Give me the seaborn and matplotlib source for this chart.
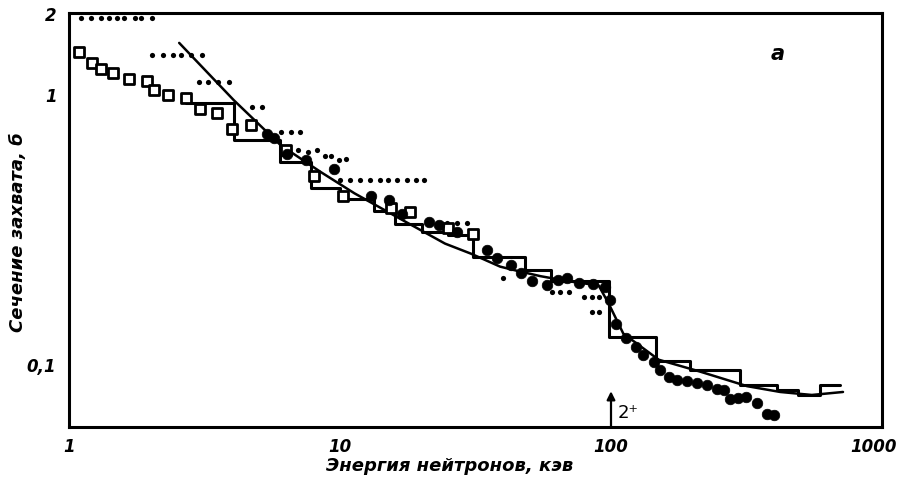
import numpy as np
import pandas as pd
import matplotlib
matplotlib.use("Agg")
import matplotlib.pyplot as plt
import seaborn as sns
from matplotlib.ticker import FixedLocator, FixedFormatter, NullFormatter
from matplotlib.transforms import ScaledTranslation

# ---------------- data ----------------
# open squares
sq_x = [1.09, 1.215, 1.315, 1.45, 1.66, 1.94, 2.06, 2.31, 2.71, 3.04, 3.53, 3.98, 4.69,
        6.3, 8.0, 10.3, 15.4, 18.2, 25.0, 31.0]
sq_y = [1.43, 1.31, 1.245, 1.20, 1.14, 1.12, 1.04, 0.99, 0.97, 0.885, 0.85, 0.746, 0.77,
        0.62, 0.50, 0.42, 0.378, 0.367, 0.32, 0.305]

# filled circles
circ_x = [5.4, 5.7, 6.4, 7.5, 9.5, 12.96, 15.2, 16.9, 21.3, 23.1, 27.0, 34.9, 38.0, 42.6,
          46.4, 51.3, 58.0, 64.0, 68.7, 76.0, 86.0, 95.0, 99.5, 104.0, 114.0, 124.0, 131.0,
          144.0, 151.0, 163.0, 175.0, 190.0, 207.0, 226.0, 246.0, 262.0, 276.0, 295.0,
          316.0, 345.0, 375.0, 400.0]
circ_y = [0.71, 0.69, 0.60, 0.57, 0.53, 0.42, 0.405, 0.36, 0.337, 0.327, 0.309, 0.264, 0.247,
          0.233, 0.217, 0.204, 0.196, 0.206, 0.208, 0.200, 0.199, 0.194, 0.173, 0.141, 0.125,
          0.116, 0.108, 0.102, 0.095, 0.090, 0.0875, 0.0865, 0.085, 0.084, 0.081, 0.080,
          0.0745, 0.075, 0.076, 0.072, 0.0657, 0.065]

# small dots (dotted data rows)
dot_x = [1.11, 1.21, 1.31, 1.4, 1.5, 1.6, 1.75, 1.85, 2.03,
         2.03, 2.23, 2.42, 2.6, 2.83, 3.1,
         3.02, 3.27, 3.56, 3.9,
         4.75, 5.17,
         6.05, 6.6, 7.1,
         7.0, 7.6, 8.2, 8.8, 9.3, 9.9, 10.5,
         10.0, 10.9, 11.9, 12.9, 14.0, 15.0, 16.2, 17.7, 19.0, 20.4,
         22.9, 24.9, 27.1, 29.5,
         40.0,
         60.5, 65.0, 70.0,
         79.5, 85.0, 90.0,
         85.0, 90.0]
dot_y = [1.91] * 9 + [1.395] * 6 + [1.11] * 4 + [0.897] * 2 + [0.728] * 3 + \
        [0.62, 0.61, 0.62, 0.59, 0.59, 0.57, 0.575] + [0.483] * 10 + [0.333] * 4 + \
        [0.208] + [0.185] * 3 + [0.178] * 3 + [0.156] * 2

# smooth calculated curve
curve_x = [2.55, 4.06, 6.05, 8.5, 11.3, 17.2, 24.4, 30.4, 39.0, 45.0, 55.0, 70.0, 90.0,
           98.0, 111.0, 150.0, 213.0, 318.0, 421.0, 551.0, 718.0]
curve_y = [1.55, 0.95, 0.647, 0.515, 0.43, 0.34, 0.28, 0.257, 0.23, 0.222, 0.212, 0.203,
           0.196, 0.168, 0.13, 0.104, 0.094, 0.083, 0.079, 0.077, 0.079]

# step histogram (group averages)
step_edges = [2.7, 4.05, 6.0, 7.8, 10.0, 13.3, 16.0, 20.0, 25.0, 31.0, 48.0, 60.0, 98.0,
              147.0, 195.0, 300.0, 410.0, 490.0, 590.0, 700.0]
step_vals = [0.93, 0.675, 0.56, 0.45, 0.41, 0.37, 0.33, 0.31, 0.30, 0.25, 0.224, 0.203,
             0.126, 0.103, 0.095, 0.0835, 0.080, 0.077, 0.0835]

x_ticks = [1, 10, 100, 1000]
x_ticklabels = ["1", "10", "100", "1000"]
y_ticks = [0.1, 1, 2]
y_ticklabels = ["0,1", "1", "2"]

# ---------------- figure ----------------
sns.set_theme(style="white")
plt.rcParams["font.family"] = ["DejaVu Sans"]
for k in ("text.color", "axes.labelcolor", "xtick.color", "ytick.color", "axes.edgecolor"):
    plt.rcParams[k] = "black"
fs_tick = 12
fs_lab = 13

W, H = 899, 489
fig = plt.figure(figsize=(W / 100, H / 100), dpi=100)
L, R, T, B = 69, 882, 14, 428
ax = fig.add_axes([L / W, 1 - B / H, (R - L) / W, (B - T) / H])

sns.lineplot(x=curve_x, y=curve_y, ax=ax, color="black", linewidth=1.8,
             sort=False, estimator=None)
sns.lineplot(x=step_edges, y=step_vals + [step_vals[-1]], ax=ax, color="black",
             linewidth=2.2, drawstyle="steps-post", sort=False, estimator=None)
sns.scatterplot(x=dot_x, y=dot_y, ax=ax, marker="o", s=14, color="black",
                linewidth=0, zorder=3)
sns.scatterplot(x=sq_x, y=sq_y, ax=ax, marker="s", s=60, facecolor="white",
                edgecolor="black", linewidth=2.0, zorder=4)
sns.scatterplot(x=circ_x, y=circ_y, ax=ax, marker="o", s=58, color="black",
                edgecolor="black", linewidth=0.5, zorder=5)

ax.set_xscale("log")
ax.set_yscale("log")
ax.set_xlim(1, 1000)
ax.set_ylim(0.0586, 2.0)

ax.xaxis.set_major_locator(FixedLocator(x_ticks))
ax.xaxis.set_major_formatter(FixedFormatter(x_ticklabels))
ax.xaxis.set_minor_locator(FixedLocator([m * d for d in (1, 10, 100) for m in range(2, 10)]))
ax.xaxis.set_minor_formatter(NullFormatter())
ax.yaxis.set_major_locator(FixedLocator(y_ticks))
ax.yaxis.set_major_formatter(FixedFormatter(y_ticklabels))
ax.yaxis.set_minor_locator(FixedLocator([0.07, 0.08, 0.09, 0.2, 0.3, 0.4, 0.5, 0.6, 0.7, 0.8, 0.9]))
ax.yaxis.set_minor_formatter(NullFormatter())

ax.tick_params(which="both", direction="in", color="black", width=1.6,
               top=False, right=False, labelcolor="black")
ax.tick_params(which="major", length=12)
ax.tick_params(which="minor", length=7)
ax.tick_params(axis="x", which="major", pad=7)
ax.tick_params(axis="y", which="major", pad=9)
for lab in ax.get_xticklabels() + ax.get_yticklabels():
    lab.set_fontstyle("italic")
    lab.set_fontweight("bold")
    lab.set_fontsize(fs_tick)
    lab.set_color("black")

# keep the "1000" label inside the canvas, as in the reference
for tick in ax.xaxis.get_major_ticks():
    if tick.label1.get_text() == "1000":
        tick.label1.set_transform(tick.label1.get_transform()
                                  + ScaledTranslation(-8 / 100, 0, fig.dpi_scale_trans))

for sp in ax.spines.values():
    sp.set_visible(True)
    sp.set_color("black")
    sp.set_linewidth(2.2)

ax.set_xlabel("")
ax.set_ylabel("")
fig.text(450 / W, 1 - 466 / H, "Энергия нейтронов, кэв", ha="center", va="center",
         fontsize=fs_lab, fontstyle="italic", fontweight="bold", color="black")
fig.text(18 / W, 1 - 232 / H, "Сечение захвата, б", ha="center", va="center",
         rotation=90, fontsize=fs_lab, fontstyle="italic", fontweight="bold", color="black")

ax.text(413, 1.42, "а", fontsize=fs_lab + 2, fontstyle="italic", fontweight="bold",
        ha="center", va="center", color="black")
ax.annotate("", xy=(100, 0.0795), xytext=(100, 0.0586),
            arrowprops=dict(arrowstyle="-|>", color="black", lw=1.6,
                            mutation_scale=12, shrinkA=0, shrinkB=0))
ax.text(106, 0.0665, "2⁺", fontsize=fs_lab, ha="left", va="center", color="black")

fig.savefig("out.png", dpi=100)
